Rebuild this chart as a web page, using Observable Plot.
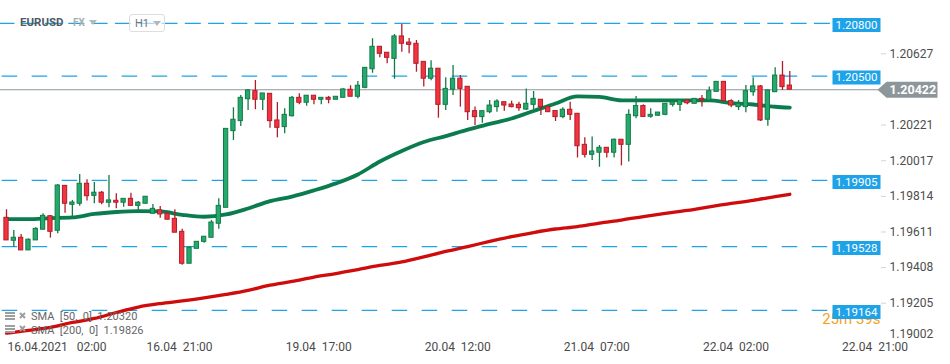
<!DOCTYPE html>
<html><head><meta charset="utf-8">
<script src="https://cdn.jsdelivr.net/npm/d3@7"></script>
<script src="https://cdn.jsdelivr.net/npm/@observablehq/plot@0.6"></script>
<style>
body{margin:0;background:#fff;font-family:Roboto,"Noto Sans",sans-serif;}
#wrap{position:relative;width:950px;height:364px;overflow:hidden;background:#fff;}
.ov{position:absolute;white-space:pre;line-height:1;}
</style></head><body><div id="wrap"></div>
<script>
// ---- data (EURUSD H1 candles) ----
const openP = [1.19692,1.19561,1.19578,1.19506,1.19563,1.19624,1.19701,1.19618,1.19874,1.19766,
1.19772,1.19886,1.19817,1.19835,1.19778,1.19789,1.19778,1.19800,1.19760,1.19772,
1.19715,1.19734,1.19715,1.19686,1.19612,1.19430,1.19515,1.19555,1.19578,1.19658,
1.19749,1.20186,1.20243,1.20368,1.20414,1.20365,1.20399,1.20247,1.20209,1.20271,
1.20376,1.20348,1.20388,1.20365,1.20376,1.20365,1.20376,1.20422,1.20382,1.20433,
1.20539,1.20667,1.20633,1.20598,1.20726,1.20691,1.20684,1.20581,1.20485,1.20542,
1.20336,1.20422,1.20485,1.20439,1.20300,1.20266,1.20294,1.20323,1.20351,1.20338,
1.20336,1.20309,1.20336,1.20365,1.20323,1.20301,1.20266,1.20308,1.20285,1.20108,
1.20051,1.20063,1.20091,1.20063,1.20137,1.20108,1.20271,1.20329,1.20268,1.20274,
1.20279,1.20336,1.20336,1.20361,1.20342,1.20370,1.20361,1.20410,1.20467,1.20357,
1.20323,1.20323,1.20408,1.20441,1.20251,1.20408,1.20503,1.20446];
const highP = [1.19738,1.19620,1.19597,1.19572,1.19635,1.19715,1.19705,1.19882,1.19874,1.19791,
1.19939,1.19909,1.19893,1.19842,1.19933,1.19829,1.19800,1.19832,1.19785,1.19812,
1.19768,1.19756,1.19722,1.19738,1.19627,1.19528,1.19555,1.19584,1.19677,1.19800,
1.20199,1.20319,1.20389,1.20424,1.20475,1.20401,1.20399,1.20349,1.20313,1.20384,
1.20399,1.20388,1.20388,1.20376,1.20384,1.20382,1.20428,1.20445,1.20469,1.20547,
1.20713,1.20667,1.20633,1.20737,1.20794,1.20714,1.20703,1.20581,1.20587,1.20542,
1.20490,1.20560,1.20503,1.20439,1.20323,1.20300,1.20361,1.20365,1.20351,1.20357,
1.20351,1.20427,1.20412,1.20365,1.20323,1.20301,1.20319,1.20351,1.20285,1.20148,
1.20153,1.20104,1.20091,1.20141,1.20137,1.20308,1.20384,1.20336,1.20313,1.20292,
1.20342,1.20361,1.20361,1.20361,1.20370,1.20389,1.20437,1.20467,1.20467,1.20365,
1.20361,1.20446,1.20490,1.20446,1.20422,1.20547,1.20583,1.20526];
const lowP = [1.19563,1.19524,1.19506,1.19506,1.19563,1.19624,1.19576,1.19601,1.19718,1.19686,
1.19758,1.19787,1.19772,1.19766,1.19749,1.19743,1.19752,1.19760,1.19718,1.19772,
1.19715,1.19690,1.19681,1.19607,1.19422,1.19430,1.19515,1.19547,1.19578,1.19627,
1.19749,1.20133,1.20213,1.20304,1.20308,1.20304,1.20203,1.20148,1.20171,1.20266,
1.20336,1.20328,1.20336,1.20336,1.20342,1.20365,1.20376,1.20382,1.20370,1.20428,
1.20516,1.20604,1.20570,1.20482,1.20636,1.20627,1.20522,1.20437,1.20473,1.20260,
1.20304,1.20389,1.20323,1.20247,1.20218,1.20231,1.20285,1.20294,1.20300,1.20319,
1.20300,1.20304,1.20309,1.20275,1.20294,1.20241,1.20256,1.20247,1.20033,1.20033,
1.20019,1.19980,1.20033,1.20033,1.19988,1.20010,1.20256,1.20267,1.20260,1.20270,
1.20274,1.20323,1.20298,1.20336,1.20342,1.20323,1.20351,1.20410,1.20357,1.20319,
1.20304,1.20291,1.20385,1.20241,1.20214,1.20408,1.20418,1.20422];
const closeP = [1.19563,1.19578,1.19506,1.19567,1.19629,1.19703,1.19612,1.19876,1.19772,1.19779,
1.19886,1.19815,1.19835,1.19778,1.19791,1.19778,1.19800,1.19760,1.19778,1.19812,
1.19743,1.19711,1.19681,1.19607,1.19430,1.19521,1.19555,1.19584,1.19665,1.19760,
1.20199,1.20251,1.20376,1.20418,1.20365,1.20401,1.20243,1.20205,1.20279,1.20376,
1.20348,1.20388,1.20365,1.20376,1.20365,1.20382,1.20424,1.20382,1.20445,1.20547,
1.20667,1.20627,1.20604,1.20726,1.20684,1.20678,1.20570,1.20485,1.20542,1.20336,
1.20427,1.20485,1.20427,1.20294,1.20266,1.20300,1.20332,1.20355,1.20332,1.20323,
1.20317,1.20342,1.20370,1.20323,1.20294,1.20266,1.20308,1.20279,1.20100,1.20051,
1.20070,1.20091,1.20063,1.20137,1.20108,1.20279,1.20329,1.20267,1.20279,1.20292,
1.20342,1.20351,1.20361,1.20345,1.20370,1.20361,1.20414,1.20467,1.20357,1.20332,
1.20342,1.20414,1.20441,1.20247,1.20418,1.20503,1.20437,1.20422];

// moving averages, read at every third candle
const smaIdx = [0,3,6,9,12,15,18,21,24,27,30,33,36,39,42,45,48,51,54,57,60,63,66,69,72,75,78,81,84,87,90,93,96,99,102,105,107];
const sma50 = [1.19684,1.19684,1.19690,1.19694,1.19714,1.19725,1.19730,1.19728,1.19709,1.19698,1.19711,1.19745,1.19787,1.19813,1.19848,1.19888,1.19939,1.20013,1.20073,1.20124,1.20158,1.20195,1.20227,1.20258,1.20301,1.20344,1.20384,1.20381,1.20361,1.20361,1.20361,1.20361,1.20361,1.20346,1.20338,1.20325,1.20320];
const sma200 = [1.19034,1.19050,1.19067,1.19095,1.19118,1.19152,1.19183,1.19203,1.19218,1.19235,1.19255,1.19278,1.19308,1.19329,1.19354,1.19374,1.19397,1.19420,1.19440,1.19469,1.19500,1.19528,1.19557,1.19585,1.19608,1.19628,1.19642,1.19662,1.19679,1.19699,1.19717,1.19734,1.19754,1.19774,1.19791,1.19813,1.19826];

const levels = [1.20800, 1.20500, 1.19905, 1.19528, 1.19164];
const lastPrice = 1.20422;
const yTicks = [1.20627, 1.20221, 1.20017, 1.19814, 1.19611, 1.19408, 1.19205];
const yTickBottom = [1.19002];
const timeIdx = [0, 19, 38, 57, 76, 95, 114];
const timeLabels = ["16.04.2021\u00a0\u00a0 02:00","16.04\u00a0 21:00","19.04\u00a0 17:00","20.04\u00a0 12:00","21.04\u00a0 07:00","22.04\u00a0 02:00","22.04\u00a0 21:00"];
const timer = ["25m 39s"];

// ---- build ----
const GREEN_F = "#25aa6d", GREEN_S = "#137a47", RED_F = "#f3343f", RED_S = "#b01d2a";
const candles = openP.map((o, i) => ({i, o, h: highP[i], l: lowP[i], c: closeP[i], up: closeP[i] >= o}));
const s50 = smaIdx.map((i, k) => ({i, v: sma50[k]}));
const s200 = smaIdx.map((i, k) => ({i, v: sma200[k]}));

const boxSym = {draw(ctx){ctx.moveTo(-24,-7);ctx.lineTo(24,-7);ctx.lineTo(24,7);ctx.lineTo(-24,7);ctx.closePath();}};
const arrowSym = {draw(ctx){ctx.moveTo(-3,0);ctx.lineTo(6,-8);ctx.lineTo(57,-8);ctx.lineTo(57,8);ctx.lineTo(6,8);ctx.closePath();}};
const LEVEL = "#1ea2e8";

const chart = Plot.plot({
  width: 950, height: 364,
  marginTop: 0, marginLeft: 0, marginRight: 70, marginBottom: 24,
  style: {background: "transparent", fontFamily: "Roboto, 'Noto Sans', sans-serif", overflow: "visible"},
  x: {type: "linear", domain: [0, 107], range: [6, 789.3], axis: null},
  y: {type: "linear", domain: [1.19002, 1.20627], range: [338.3, 53.3], axis: null, label: null},
  marks: [
    Plot.ruleY([levels[0]], {y: d => d, stroke: LEVEL, strokeWidth: 1.2, strokeDasharray: "16,7.3", strokeDashoffset: 1.6}),
    Plot.ruleY(levels.slice(1), {y: d => d, stroke: LEVEL, strokeWidth: 1.2, strokeDasharray: "15.5,14.5", strokeDashoffset: 28.3}),
    Plot.ruleY([lastPrice], {y: d => d, stroke: "#8d979b", strokeWidth: 1}),
    Plot.line(s200, {x: "i", y: "v", stroke: "#cf0b0b", strokeWidth: 3.3, curve: "monotone-x"}),
    Plot.line(s50, {x: "i", y: "v", stroke: "#0b7c4d", strokeWidth: 3.8, curve: "monotone-x"}),
    Plot.ruleX(candles, {x: "i", y1: "l", y2: "h", stroke: d => d.up ? GREEN_S : RED_S, strokeWidth: 1.3}),
    Plot.rect(candles, {x1: d => d.i - 0.29, x2: d => d.i + 0.29,
      y1: d => Math.min(d.o, d.c), y2: d => Math.max(d.o, d.c),
      fill: d => d.up ? GREEN_F : RED_F, stroke: d => d.up ? GREEN_S : RED_S, strokeWidth: 1}),
    // right price axis
    Plot.axisY(yTicks, {anchor: "right", tickSize: 5, tickPadding: 4, label: null,
      tickFormat: d => d.toFixed(5), fontSize: 12, stroke: "#d3d3d3", fill: "#4d4d4d"}),
    Plot.text(yTickBottom, {y: d => d, text: d => d.toFixed(5), frameAnchor: "right", dx: 9, dy: -5,
      textAnchor: "start", lineAnchor: "middle", fontSize: 12, fill: "#4d4d4d"}),
    // time axis
    Plot.text(timeIdx, {x: d => d, text: (d, k) => timeLabels[k], frameAnchor: "bottom", dy: 7, dx: 1,
      textAnchor: "start", lineAnchor: "middle", fontSize: 12, fill: "#4a4a4a"}),
    // countdown
    Plot.text(timer, {text: d => d, frameAnchor: "bottom-right", dy: -21, textAnchor: "end", lineAnchor: "middle",
      fontSize: 15, fill: "#f6a01c"}),
    // level boxes
    Plot.dot(levels, {y: d => d, frameAnchor: "right", dx: -24, dy: 1.5, symbol: boxSym, r: 3, fill: LEVEL, stroke: null}),
    Plot.text(levels, {y: d => d, text: d => d.toFixed(5), frameAnchor: "right", dx: -24, dy: 1.5,
      textAnchor: "middle", lineAnchor: "middle", fill: "white", fontSize: 11.5}),
    // last price label
    Plot.dot([lastPrice], {y: d => d, frameAnchor: "right", symbol: arrowSym, r: 3, fill: "#8d979b", stroke: null}),
    Plot.text([lastPrice], {y: d => d, text: d => d.toFixed(5), frameAnchor: "right", dx: 9, textAnchor: "start",
      lineAnchor: "middle", fill: "white", fontSize: 12.5, fontWeight: "bold"})
  ]
});
const wrap = document.getElementById("wrap");
wrap.appendChild(chart);

// overlays: instrument header and indicator legend
const tri = (x, y, c) => `<svg class="ov" style="left:${x}px;top:${y}px" width="8" height="5"><polygon points="0,0 8,0 4,5" fill="${c}"/></svg>`;
wrap.insertAdjacentHTML("beforeend", `
<div class="ov" style="left:20px;top:17px;font-size:11.5px;font-weight:bold;color:#4f5b66;">EURUSD</div>
<div class="ov" style="left:73px;top:18px;font-size:10px;font-weight:bold;color:#a7adb2;">FX</div>
${tri(89, 20, "#b3b8bc")}
<div class="ov" style="left:129px;top:14px;width:34px;height:16px;border:1px solid #dedede;border-radius:3px;background:rgba(255,255,255,0.6);"></div>
<div class="ov" style="left:135px;top:18px;font-size:11px;color:#6a737a;">H1</div>
${tri(153, 21, "#b3b8bc")}
<svg class="ov" style="left:5px;top:312px" width="24" height="24">
  <rect x="0" y="0" width="10" height="8" fill="#9e9e9e"/><rect x="0" y="2" width="10" height="1" fill="#fff"/><rect x="0" y="5" width="10" height="1" fill="#fff"/>
  <path d="M15,1 L20,6 M20,1 L15,6" stroke="#9e9e9e" stroke-width="2"/>
  <rect x="0" y="13" width="10" height="8" fill="#9e9e9e"/><rect x="0" y="15" width="10" height="1" fill="#fff"/><rect x="0" y="18" width="10" height="1" fill="#fff"/>
  <path d="M15,14 L20,19 M20,14 L15,19" stroke="#9e9e9e" stroke-width="2"/>
</svg>
<div class="ov" style="left:31px;top:311px;font-size:11px;color:#666;">SMA  [50,  0]  1.20320</div>
<div class="ov" style="left:31px;top:325px;font-size:11px;color:#666;">SMA  [200,  0]  1.19826</div>
`);
</script></body></html>
